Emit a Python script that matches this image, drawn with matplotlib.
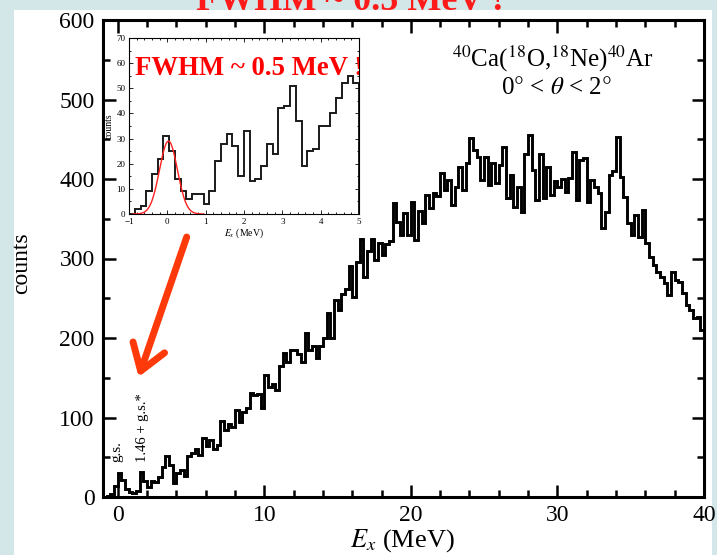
import numpy as np
import matplotlib.pyplot as plt
from matplotlib.patches import Rectangle
from matplotlib.ticker import MultipleLocator

plt.rcParams['font.family'] = ['Liberation Serif', 'DejaVu Serif']
plt.rcParams['mathtext.fontset'] = 'stix'

# -----------------------------
# DATA
# -----------------------------

# main spectrum: 0.25 MeV bins starting at -1 MeV (one row per MeV)
ex_start = -1.0
bin_width = 0.25
counts = [
    0, 1, 4, 14,          # -1
    30, 22, 10, 6,        # 0
    5, 8, 32, 20,         # 1
    13, 20, 19, 25,       # 2
    38, 51, 40, 18,       # 3
    30, 34, 26, 51,       # 4
    55, 61, 53, 74,       # 5
    64, 72, 61, 66,       # 6
    95, 84, 92, 88,       # 7
    109, 94, 107, 112,    # 8
    131, 128, 130, 112,   # 9
    153, 138, 142, 135,   # 10
    165, 181, 170, 185,   # 11
    185, 180, 170, 206,   # 12
    185, 190, 175, 190,   # 13
    200, 231, 200, 248,   # 14
    235, 255, 262, 290,   # 15
    251, 295, 325, 277,   # 16
    310, 325, 298, 320,   # 17
    305, 318, 322, 370,   # 18
    346, 330, 357, 330,   # 19
    371, 323, 360, 345,   # 20
    380, 364, 382, 378,   # 21
    407, 386, 399, 367,   # 22
    390, 415, 386, 420,   # 23
    451, 436, 428, 399,   # 24
    428, 392, 420, 395,   # 25
    418, 440, 376, 405,   # 26
    365, 390, 358, 432,   # 27
    455, 411, 373, 432,   # 28
    376, 415, 380, 398,   # 29
    390, 400, 384, 401,   # 30
    434, 373, 424, 426,   # 31
    371, 399, 390, 382,   # 32
    338, 358, 405, 410,   # 33
    453, 403, 377, 345,   # 34
    330, 355, 327, 361,   # 35
    320, 302, 292, 283,   # 36
    277, 269, 254, 283,   # 37
    273, 270, 257, 242,   # 38
    235, 225, 226, 210,   # 39
]

# inset: 0.15 MeV bins from -1 to 5 MeV
inset_start = -1.0
inset_bin = 0.15
inset_counts = [0, 2, 3, 9, 16, 22, 31, 25, 14, 9,
                6, 8, 8, 4, 9, 21, 28, 32, 27, 15,
                33, 13, 14, 19, 28, 24, 42, 43, 51, 37,
                19, 25, 26, 35, 35, 40, 46, 52, 55, 52]

# gaussian fit of the ground state
fit_amp = 29.0
fit_centre = 0.03
fit_fwhm = 0.55

edges = ex_start + bin_width * np.arange(len(counts) + 1)
inset_edges = inset_start + inset_bin * np.arange(len(inset_counts) + 1)

sigma = fit_fwhm / 2.3548
x_fit = np.linspace(-0.9, 0.95, 200)
y_fit = fit_amp * np.exp(-0.5 * ((x_fit - fit_centre) / sigma) ** 2)

# -----------------------------
# FIGURE / SLIDE BACKGROUND
# -----------------------------

W, H = 717, 555
fig = plt.figure(figsize=(W / 100, H / 100), dpi=100)
fig.patch.set_facecolor('#d3e6e8')

# slide title, mostly hidden behind the picture
fig.text(0.488, 1 - 10 / H, 'FWHM ~ 0.5 MeV !', color='#ff1a1a',
         fontsize=26, fontweight='bold', ha='center', va='baseline', zorder=0)
fig.add_artist(Rectangle((14 / W, 0), (712 - 14) / W, 1 - 10 / H,
                         transform=fig.transFigure, facecolor='white',
                         edgecolor='none', zorder=1))

# -----------------------------
# MAIN SPECTRUM
# -----------------------------

ax = fig.add_axes([103 / W, 1 - 497 / H, (704 - 103) / W, (497 - 20) / H])
ax.set_zorder(2)
ax.stairs(counts, edges, color='black', lw=2.1)

ax.set_xlim(-1, 40)
ax.set_ylim(0, 600)
ax.xaxis.set_major_locator(MultipleLocator(10))
ax.xaxis.set_minor_locator(MultipleLocator(2))
ax.yaxis.set_major_locator(MultipleLocator(100))
ax.yaxis.set_minor_locator(MultipleLocator(50))
ax.tick_params(which='both', direction='in', top=True, right=True, width=1.8)
ax.tick_params(which='major', length=9, labelsize=17, pad=6)
ax.tick_params(which='minor', length=5)
for s in ax.spines.values():
    s.set_linewidth(2.2)

fig.text(22 / W, 1 - 263 / H, 'counts', rotation=90, ha='center',
         va='center', fontsize=17)
fig.text(402 / W, 1 - 541 / H, r'$E_x$ (MeV)', ha='center', va='center',
         fontsize=19)

fig.text(553 / W, 1 - 67 / H, r'$^{40}$Ca($^{18}$O,$^{18}$Ne)$^{40}$Ar',
         ha='center', va='baseline', fontsize=18)
fig.text(556 / W, 1 - 94 / H, r'0$\degree$ < $\theta$ < 2$\degree$',
         ha='center', va='baseline', fontsize=18)

ax.text(-0.03, 44, 'g.s.', rotation=90, ha='center', va='bottom', fontsize=11)
ax.text(1.67, 44, '1.46 + g.s.*', rotation=90, ha='center', va='bottom',
        fontsize=10.5)

ax.annotate('', xy=(1.43, 151), xytext=(4.71, 327),
            arrowprops=dict(arrowstyle='->, head_length=0.9, head_width=0.6',
                            color='#ff3a0a', lw=5, mutation_scale=20,
                            shrinkA=0, shrinkB=0))

# -----------------------------
# INSET
# -----------------------------

ax_in = fig.add_axes([129 / W, 1 - 214 / H, (359 - 129) / W, (214 - 38) / H])
ax_in.set_zorder(3)
ax_in.stairs(inset_counts, inset_edges, color='#1a1a1a', lw=1.4)
ax_in.plot(x_fit, y_fit, color='#ff2020', lw=1.0)

ax_in.set_xlim(-1, 5)
ax_in.set_ylim(0, 70)
ax_in.xaxis.set_major_locator(MultipleLocator(1))
ax_in.xaxis.set_minor_locator(MultipleLocator(0.2))
ax_in.yaxis.set_major_locator(MultipleLocator(10))
ax_in.yaxis.set_minor_locator(MultipleLocator(5))
ax_in.tick_params(which='both', direction='in', top=True, right=True,
                  width=0.6, labelsize=6.5)
ax_in.tick_params(axis='x', pad=3)
ax_in.tick_params(axis='y', pad=2.5)
ax_in.tick_params(which='major', length=3)
ax_in.tick_params(which='minor', length=1.5)
for s in ax_in.spines.values():
    s.set_linewidth(0.8)
ax_in.set_xlabel(r'$E_x$ (MeV)', fontsize=7, labelpad=0.5)
ax_in.set_ylabel('counts', fontsize=7, labelpad=2)

ax_in.text(0.026, 0.79, 'FWHM ~ 0.5 MeV !', transform=ax_in.transAxes,
           color='#ff0000', fontsize=19.3, fontweight='bold', ha='left',
           va='baseline', clip_on=True)

plt.savefig('out.png', dpi=100, facecolor=fig.get_facecolor())
